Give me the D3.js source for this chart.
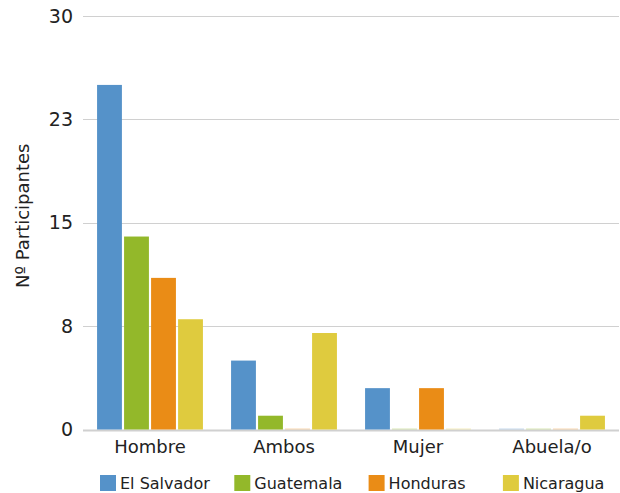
<!DOCTYPE html>
<html>
<head>
<meta charset="utf-8">
<style>
  html, body {
    margin: 0;
    padding: 0;
    background: #fff;
  }
  svg text {
    font-family: "DejaVu Sans", Verdana, sans-serif;
    fill: #222;
  }
  .grid line {
    stroke: #d0d0d0;
    stroke-width: 1;
  }
</style>
<script src="https://cdn.jsdelivr.net/npm/d3@7"></script>
</head>
<body>
<svg id="chart" width="620" height="493"></svg>
<script>
  var categories = ['Hombre', 'Ambos', 'Mujer', 'Abuela/o'];
  var countries = ['El Salvador', 'Guatemala', 'Honduras', 'Nicaragua'];
  var colors = ['#5592c9', '#93b82a', '#ea8c16', '#dfcb3e'];

  // one array per country, in category order
  var elSalvador = [25, 5, 3, 0];
  var guatemala = [14, 1, 0, 0];
  var honduras = [11, 0, 3, 0];
  var nicaragua = [8, 7, 0, 1];
  var series = [elSalvador, guatemala, honduras, nicaragua];

  var yTicks = [0, 7.5, 15, 22.5, 30];
  var yTickLabels = ['0', '8', '15', '23', '30'];

  var margin = {left: 83, right: 1, top: 16, bottom: 63.5};
  var width = 620, height = 493;

  var svg = d3.select('#chart');

  var x0 = d3.scaleBand()
    .domain(categories)
    .range([margin.left, width - margin.right])
    .paddingInner(0.21)
    .paddingOuter(0.105);

  var x1 = d3.scaleBand()
    .domain(countries)
    .range([0, x0.bandwidth()])
    .paddingInner(0.08);

  var y = d3.scaleLinear()
    .domain([0, 30])
    .range([height - margin.bottom, margin.top]);

  var color = d3.scaleOrdinal().domain(countries).range(colors);

  // gridlines
  svg.append('g').attr('class', 'grid')
    .selectAll('line')
    .data(yTicks)
    .enter().append('line')
    .attr('x1', margin.left)
    .attr('x2', width - margin.right)
    .attr('y1', d => Math.round(y(d)) + 0.5)
    .attr('y2', d => Math.round(y(d)) + 0.5)
    .style('stroke-width', d => d === 0 ? 2 : 1);

  // y tick labels
  svg.append('g')
    .selectAll('text')
    .data(yTicks)
    .enter().append('text')
    .attr('x', 73)
    .attr('y', d => y(d))
    .attr('dy', '0.35em')
    .attr('text-anchor', 'end')
    .style('font-size', '19px')
    .text((d, i) => yTickLabels[i]);

  // bars
  var groups = svg.append('g')
    .selectAll('g')
    .data(categories)
    .enter().append('g')
    .attr('transform', d => 'translate(' + x0(d) + ',0)');

  groups.selectAll('rect')
    .data((c, ci) => countries.map((k, si) => ({country: k, value: series[si][ci]})))
    .enter().append('rect')
    .attr('x', d => x1(d.country))
    .attr('width', x1.bandwidth())
    .attr('y', d => d.value === 0 ? y(0) - 1 : y(d.value))
    .attr('height', d => d.value === 0 ? 1 : y(0) - y(d.value))
    .attr('fill', d => color(d.country))
    .attr('opacity', d => d.value === 0 ? 0.35 : 1);

  // category labels
  svg.append('g')
    .selectAll('text')
    .data(categories)
    .enter().append('text')
    .attr('x', d => x0(d) + x0.bandwidth() / 2)
    .attr('y', y(0) + 23)
    .attr('text-anchor', 'middle')
    .style('font-size', '18px')
    .text(d => d);

  // y axis title
  svg.append('text')
    .attr('transform', 'translate(29,' + (y(15) - 7) + ') rotate(-90)')
    .attr('text-anchor', 'middle')
    .style('font-size', '18px')
    .text('Nº Participantes');

  // legend
  var legend = svg.append('g')
    .selectAll('g')
    .data(countries)
    .enter().append('g')
    .attr('transform', (d, i) => 'translate(' + (100 + i * 134.3) + ',475)');

  legend.append('rect')
    .attr('width', 16)
    .attr('height', 16)
    .attr('fill', d => color(d));

  legend.append('text')
    .attr('x', 20)
    .attr('y', 8)
    .attr('dy', '0.35em')
    .style('font-size', '16px')
    .text(d => d);
</script>
</body>
</html>
